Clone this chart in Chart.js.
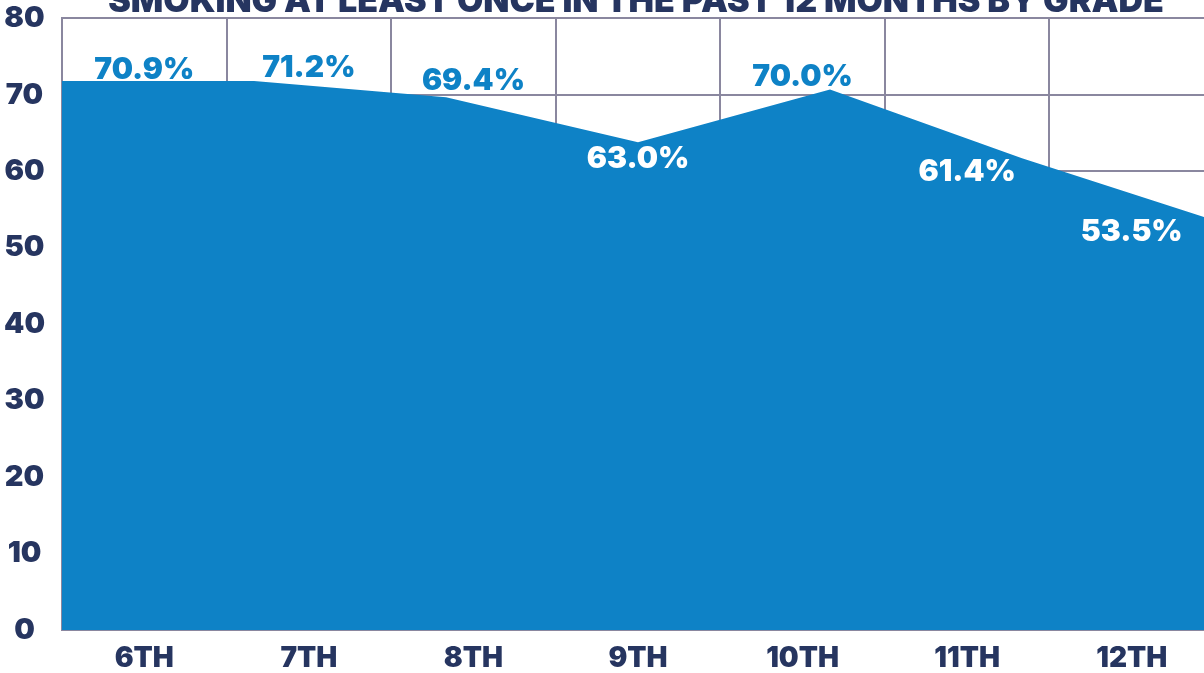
<!DOCTYPE html>
<html>
<head>
<meta charset="utf-8">
<script src="https://cdn.jsdelivr.net/npm/chart.js@4.4.1/dist/chart.umd.min.js"></script>
<style>
  html, body { margin: 0; padding: 0; background: #ffffff; overflow: hidden; }
  #wrap { width: 1214px; height: 689px; margin-top: -16px; }
</style>
</head>
<body>
<div id="wrap"><canvas id="grafico" width="1214" height="689"></canvas></div>
<script>
// dados
const titulo = "SMOKING AT LEAST ONCE IN THE PAST 12 MONTHS BY GRADE";
const series = ["6TH", "7TH", "8TH", "9TH", "10TH", "11TH", "12TH"];
const areaValores = [71.8, 71.8, 69.7, 63.8, 70.7, 61.7, 53.6];   // contorno da area
const rotulosValores = [70.9, 71.2, 69.4, 63.0, 70.0, 61.4, 53.5]; // textos em %
const yTicks = [0, 10, 20, 30, 40, 50, 60, 70, 80];

const AZUL = "#0e82c6";
const MARINHO = "#263560";
const GRADE = "#8a879f";

// acima ou abaixo do contorno
const posRotulo = ["acima", "acima", "acima", "abaixo", "acima", "abaixo", "abaixo"];

const tituloPlugin = {
    id: "tituloCortado",
    beforeDraw(chart) {
        const ctx = chart.ctx;
        ctx.save();
        ctx.fillStyle = MARINHO;
        ctx.font = '900 34px Inter';
        ctx.textAlign = "center";
        ctx.textBaseline = "alphabetic";
        ctx.fillText(titulo, 636, 28);   // canvas sobe 16px, titulo fica cortado
        ctx.restore();
    }
};

const rotulosPlugin = {
    id: "rotulosPct",
    afterDatasetsDraw(chart) {
        const ctx = chart.ctx;
        const x = chart.scales.x, y = chart.scales.y;
        ctx.save();
        ctx.font = '900 30px Inter';
        ctx.textAlign = "center";
        ctx.textBaseline = "middle";
        rotulosValores.forEach((v, i) => {
            const px = x.getPixelForValue(i);
            const acima = posRotulo[i] === "acima";
            const py = y.getPixelForValue(v) + (acima ? -18 : 11);
            ctx.fillStyle = acima ? AZUL : "#ffffff";
            ctx.fillText(v.toFixed(1) + "%", px, py);
        });
        ctx.restore();
    }
};

new Chart(document.getElementById("grafico"), {
    type: "line",
    data: {
        labels: series,
        datasets: [{
            data: areaValores,
            xAxisID: "x2",
            fill: "origin",
            backgroundColor: AZUL,
            borderWidth: 0,
            pointRadius: 0,
            tension: 0
        }]
    },
    options: {
        responsive: false,
        animation: false,
        layout: { padding: 0 },
        plugins: {
            legend: { display: false },
            tooltip: { enabled: false },
            title: { display: false }
        },
        scales: {
            x: {
                type: "category",
                offset: true,
                grid: { color: GRADE, lineWidth: 2, offset: true, drawTicks: false },
                border: { display: false },
                ticks: {
                    color: MARINHO,
                    font: { family: "Inter", weight: 900, size: 28 },
                    padding: 12,
                    maxRotation: 0
                },
                afterFit: (s) => { s.height = 43; }
            },
            x2: {
                type: "category",
                labels: series,
                offset: false,
                display: false
            },
            y: {
                min: 0,
                max: 80,
                afterBuildTicks: (s) => { s.ticks = yTicks.map(v => ({ value: v })); },
                grid: { color: GRADE, lineWidth: 2, drawTicks: false },
                border: { display: true, color: GRADE, width: 2 },
                ticks: {
                    color: MARINHO,
                    font: { family: "Inter", weight: 900, size: 29 },
                    crossAlign: "center",
                    padding: 17
                },
                afterFit: (s) => { s.width = 62; }
            }
        }
    },
    plugins: [tituloPlugin, rotulosPlugin]
});
</script>
</body>
</html>
